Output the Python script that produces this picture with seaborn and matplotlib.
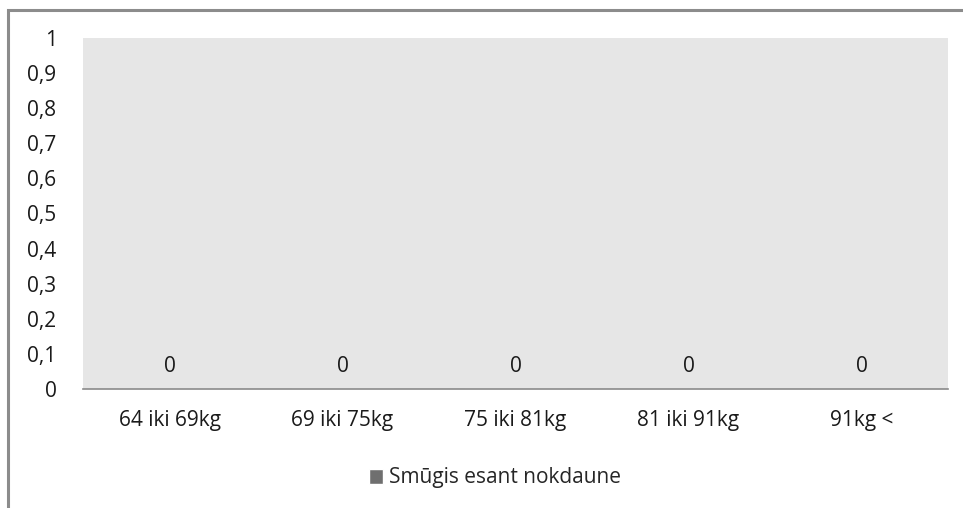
import matplotlib
matplotlib.use("Agg")
import matplotlib.pyplot as plt
from matplotlib.patches import Rectangle
from matplotlib.ticker import FixedLocator, FuncFormatter
import seaborn as sns
import pandas as pd

categories = ["64 iki 69kg", "69 iki 75kg", "75 iki 81kg", "81 iki 91kg", "91kg <"]
values = [0, 0, 0, 0, 0]
series_name = "Smūgis esant nokdaune"
y_ticks = [0, 0.1, 0.2, 0.3, 0.4, 0.5, 0.6, 0.7, 0.8, 0.9, 1]

df = pd.DataFrame({"svoris": categories, "reiksme": values, "serija": series_name})

sns.set_theme(style="white")
plt.rcParams["font.family"] = ["Open Sans", "DejaVu Sans"]

fig = plt.figure(figsize=(9.63, 5.08), dpi=100)
ax = fig.add_axes([83 / 963, 1 - 389 / 508, (948 - 83) / 963, (389 - 38) / 508])

sns.barplot(data=df, x="svoris", y="reiksme", hue="serija",
            palette=["#6f6f6f"], ax=ax, width=0.6)

ax.set_facecolor("#e6e6e6")
ax.set_ylim(0, 1)
ax.yaxis.set_major_locator(FixedLocator(y_ticks))
ax.yaxis.set_major_formatter(FuncFormatter(
    lambda v, _: ("%g" % round(v, 1)).replace(".", ",")))
ax.set_xlabel("")
ax.set_ylabel("")
for side in ["top", "right", "left"]:
    ax.spines[side].set_visible(False)
ax.spines["bottom"].set_color("#8a8a8a")
ax.spines["bottom"].set_linewidth(1.2)
ax.tick_params(axis="y", length=0, pad=19, labelsize=15, colors="#1a1a1a")
ax.tick_params(axis="x", length=0, pad=15, labelsize=15, colors="#1a1a1a")

for container in ax.containers:
    ax.bar_label(container, labels=[f"{v:g}" for v in values],
                 padding=9, fontsize=15, color="#1a1a1a")

sns.move_legend(ax, "center", bbox_to_anchor=(495 / 963, 30 / 508),
                bbox_transform=fig.transFigure, frameon=False, title=None,
                fontsize=15, handlelength=0.7, handleheight=0.7,
                handletextpad=0.3)

# outer chart frame
fig.patches.append(Rectangle((8 / 963, -0.05), 1.2, 1 - 10 / 508 + 0.05,
                             transform=fig.transFigure, fill=False,
                             edgecolor="#8c8c8c", linewidth=2.2))

fig.savefig("out.png", dpi=100)
